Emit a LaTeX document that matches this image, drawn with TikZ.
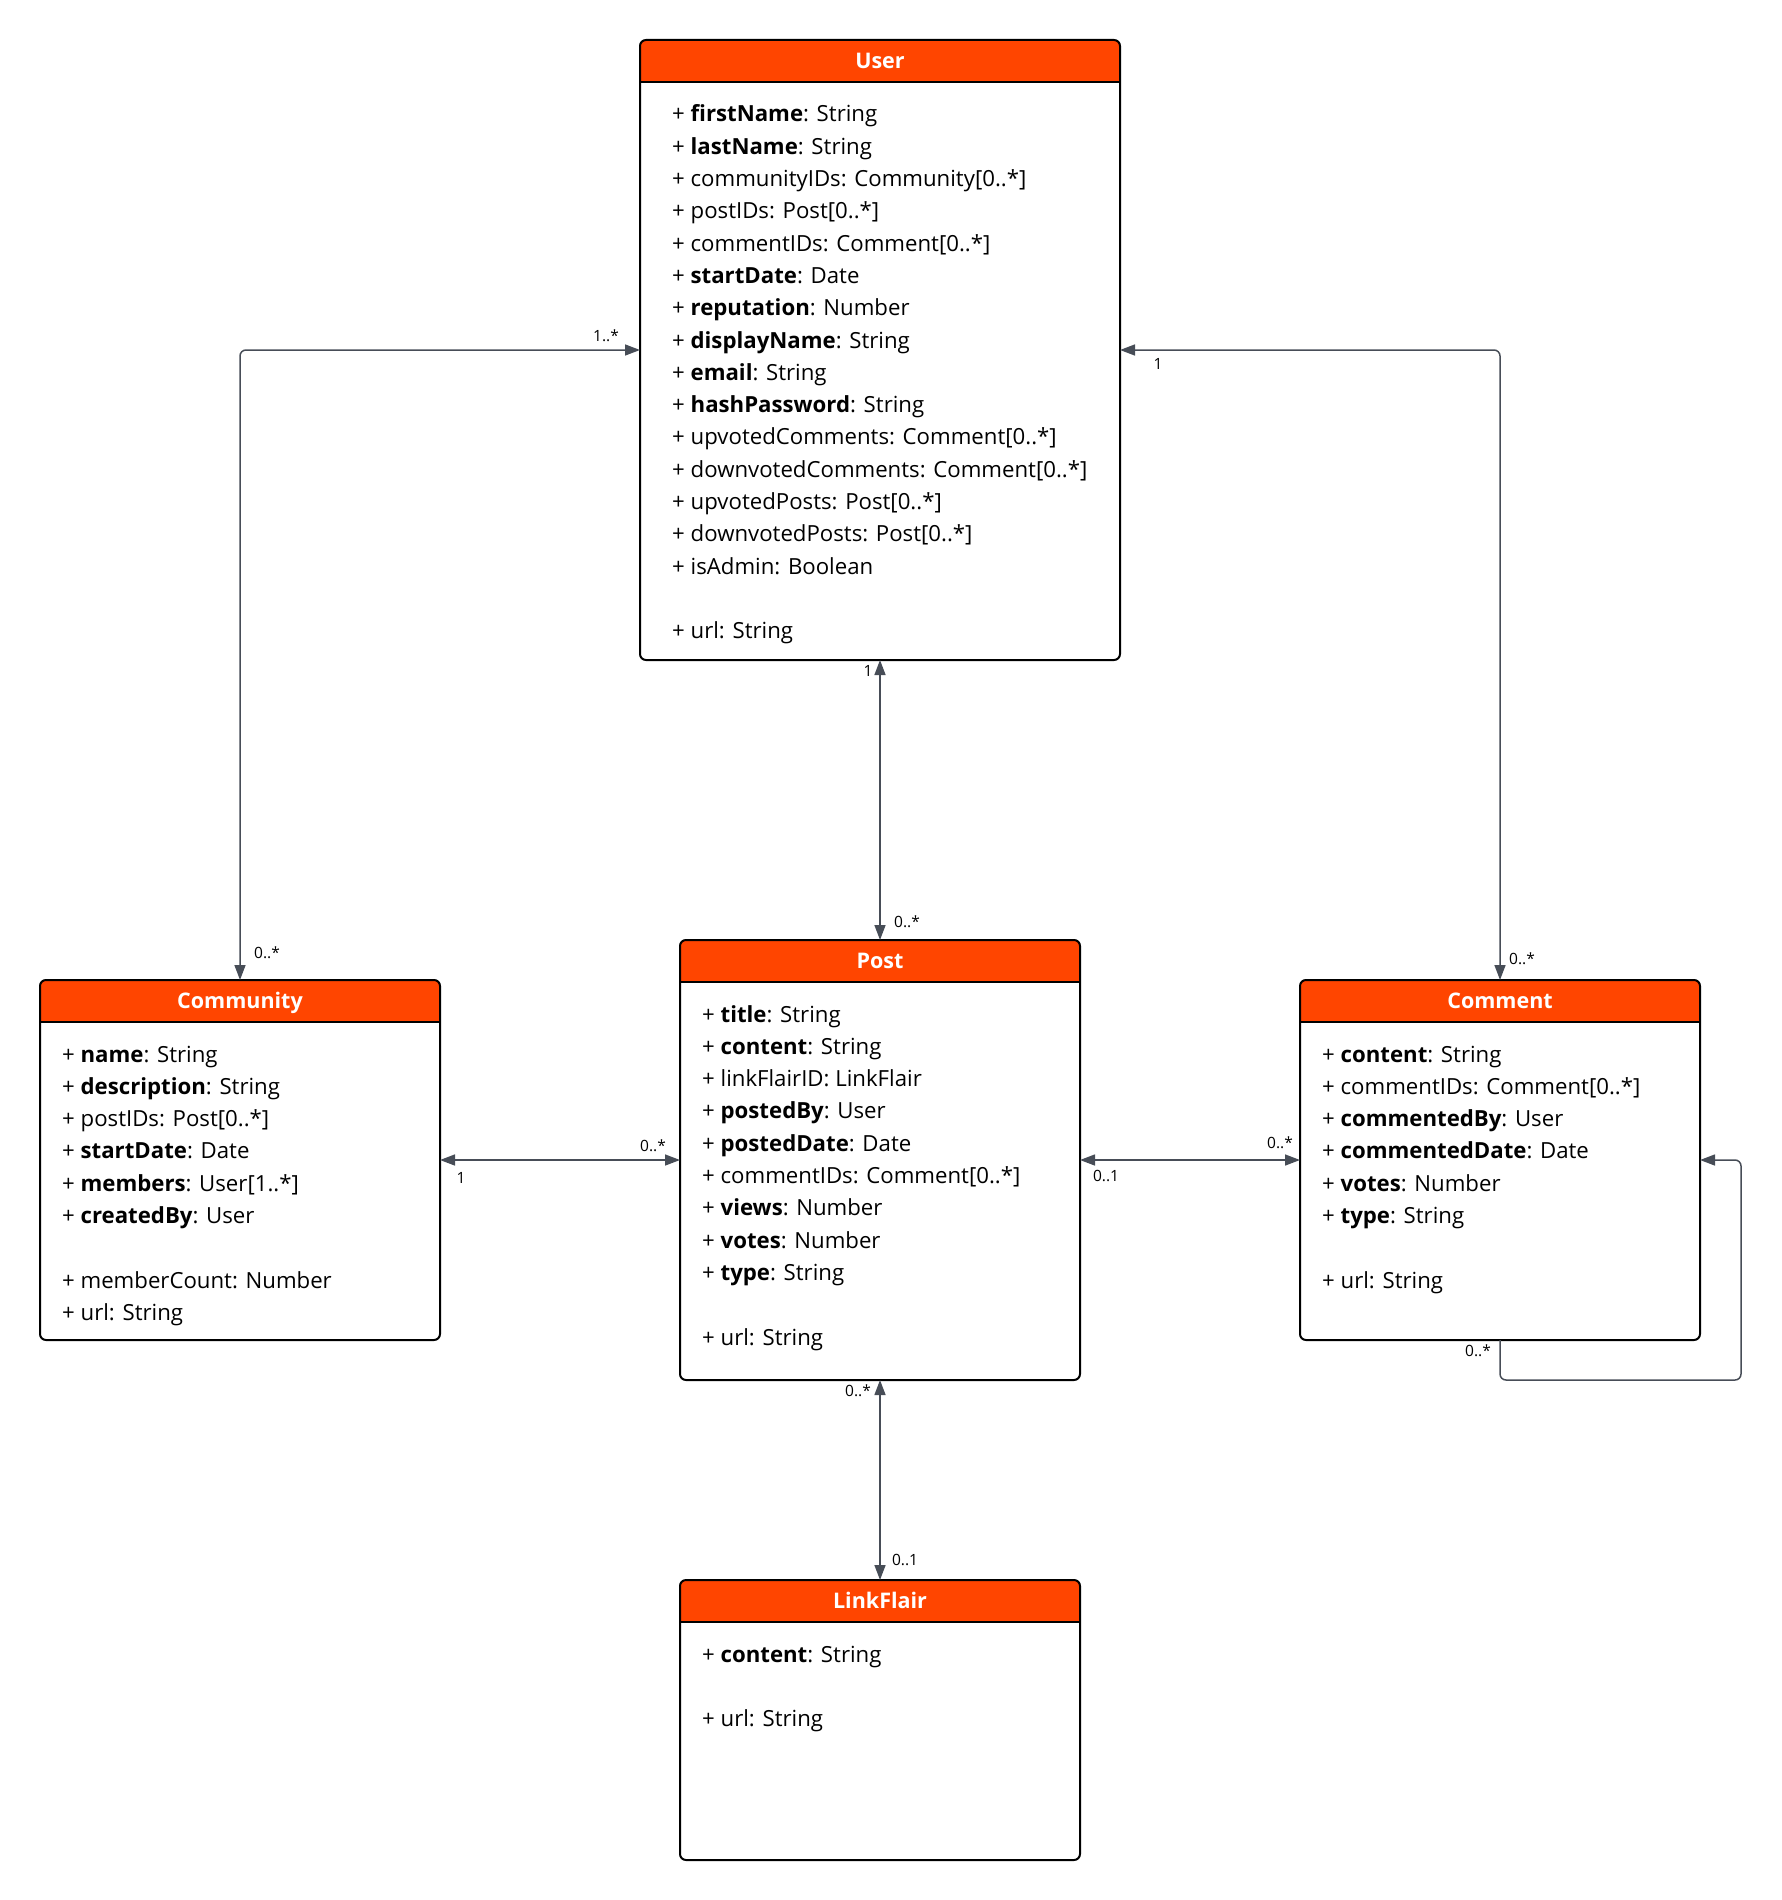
\documentclass[tikz,border=0pt]{standalone}
\usepackage{fontspec}
\setmainfont{Open Sans}
\usetikzlibrary{arrows.meta,calc}

\definecolor{hdr}{HTML}{FF4500}
\definecolor{wire}{HTML}{474D57}

\tikzset{
  x=1pt, y=-1pt,
  box/.style={rectangle, inner sep=0pt, outer sep=0pt, fill=white},
  frame/.style={draw=black, line width=2pt, rounded corners=6pt},
  classtitle/.style={font=\fontsize{21.5}{26}\selectfont\bfseries, text=white, inner sep=0pt},
  attrs/.style={font=\fontsize{22.2}{32.3}\selectfont, inner sep=0pt, text=black},
  conn/.style={draw=wire, line width=1.5pt, rounded corners=6pt},
  twoway/.style={{Triangle[length=15pt,width=11pt]}-{Triangle[length=15pt,width=11pt]}},
  oneway/.style={-{Triangle[length=15pt,width=11pt]}},
  mult/.style={font=\fontsize{15.5}{18}\selectfont, inner sep=0pt, text=black},
}

% #1 name, #2 left, #3 top, #4 width, #5 height, #6 title, #7 text indent, #8 attribute lines
\newcommand\umlclass[8]{%
  \node[box, minimum width=#4pt, minimum height=#5pt, anchor=north west] (#1) at (#2,#3) {};
  \fill[hdr, rounded corners=6pt] (#1.north west) rectangle ($(#1.north east)+(0,42)$);
  \fill[hdr] ($(#1.north west)+(0,20)$) rectangle ($(#1.north east)+(0,42)$);
  \draw[line width=2pt] ($(#1.north west)+(0,42)$) -- ($(#1.north east)+(0,42)$);
  \draw[frame] (#1.north west) rectangle (#1.south east);
  \node[classtitle, anchor=base] (#1-title) at ($(#1.north)+(0,28.5)$) {#6};
  \node[attrs, anchor=base west] (#1-attrs) at ($(#1.north west)+(#7,82)$)
    {\parbox[t]{#4pt}{\raggedright #8}};
}

\begin{document}
\begin{tikzpicture}
\useasboundingbox (0,0) rectangle (1781,1900);

\umlclass{user}{640}{40}{480}{620}{User}{32}{%
  + \textbf{firstName}: String\\
  + \textbf{lastName}: String\\
  + communityIDs: Community[0..*]\\
  + postIDs: Post[0..*]\\
  + commentIDs: Comment[0..*]\\
  + \textbf{startDate}: Date\\
  + \textbf{reputation}: Number\\
  + \textbf{displayName}: String\\
  + \textbf{email}: String\\
  + \textbf{hashPassword}: String\\
  + upvotedComments: Comment[0..*]\\
  + downvotedComments: Comment[0..*]\\
  + upvotedPosts: Post[0..*]\\
  + downvotedPosts: Post[0..*]\\
  + isAdmin: Boolean\\
  \mbox{}\\
  + url: String}

\umlclass{community}{40}{980}{400}{360}{Community}{22}{%
  + \textbf{name}: String\\
  + \textbf{description}: String\\
  + postIDs: Post[0..*]\\
  + \textbf{startDate}: Date\\
  + \textbf{members}: User[1..*]\\
  + \textbf{createdBy}: User\\
  \mbox{}\\
  + memberCount: Number\\
  + url: String}

\umlclass{post}{680}{940}{400}{440}{Post}{22}{%
  + \textbf{title}: String\\
  + \textbf{content}: String\\
  + linkFlairID: LinkFlair\\
  + \textbf{postedBy}: User\\
  + \textbf{postedDate}: Date\\
  + commentIDs: Comment[0..*]\\
  + \textbf{views}: Number\\
  + \textbf{votes}: Number\\
  + \textbf{type}: String\\
  \mbox{}\\
  + url: String}

\umlclass{comment}{1300}{980}{400}{360}{Comment}{22}{%
  + \textbf{content}: String\\
  + commentIDs: Comment[0..*]\\
  + \textbf{commentedBy}: User\\
  + \textbf{commentedDate}: Date\\
  + \textbf{votes}: Number\\
  + \textbf{type}: String\\
  \mbox{}\\
  + url: String}

\umlclass{linkflair}{680}{1580}{400}{280}{LinkFlair}{22}{%
  + \textbf{content}: String\\
  \mbox{}\\
  + url: String}

% associations
\draw[conn, twoway] (user.west) -| (community.north);
\draw[conn, twoway] (user.east) -| (comment.north);
\draw[conn, twoway] (user.south) -- (post.north);
\draw[conn, twoway] (community.east) -- (post.west);
\draw[conn, twoway] (post.east) -- (comment.west);
\draw[conn, twoway] (post.south) -- (linkflair.north);

% comment replies to comment
\coordinate (loopcorner) at (1741,1380);
\draw[conn, oneway] (comment.south) |- (loopcorner) |- (comment.east);

% multiplicities
\node[mult] (m-uc1) at (606,336) {1..*};
\node[mult] (m-uc2) at (267,953) {0..*};
\node[mult] (m-um1) at (1158,364) {1};
\node[mult] (m-um2) at (1522,959) {0..*};
\node[mult] (m-up1) at (868,671) {1};
\node[mult] (m-up2) at (907,922) {0..*};
\node[mult] (m-cp1) at (461,1178) {1};
\node[mult] (m-cp2) at (653,1146) {0..*};
\node[mult] (m-pm1) at (1106,1176) {0..1};
\node[mult] (m-pm2) at (1280,1143) {0..*};
\node[mult] (m-pl1) at (858,1391) {0..*};
\node[mult] (m-pl2) at (905,1560) {0..1};
\node[mult] (m-mm) at (1478,1351) {0..*};
\end{tikzpicture}
\end{document}
